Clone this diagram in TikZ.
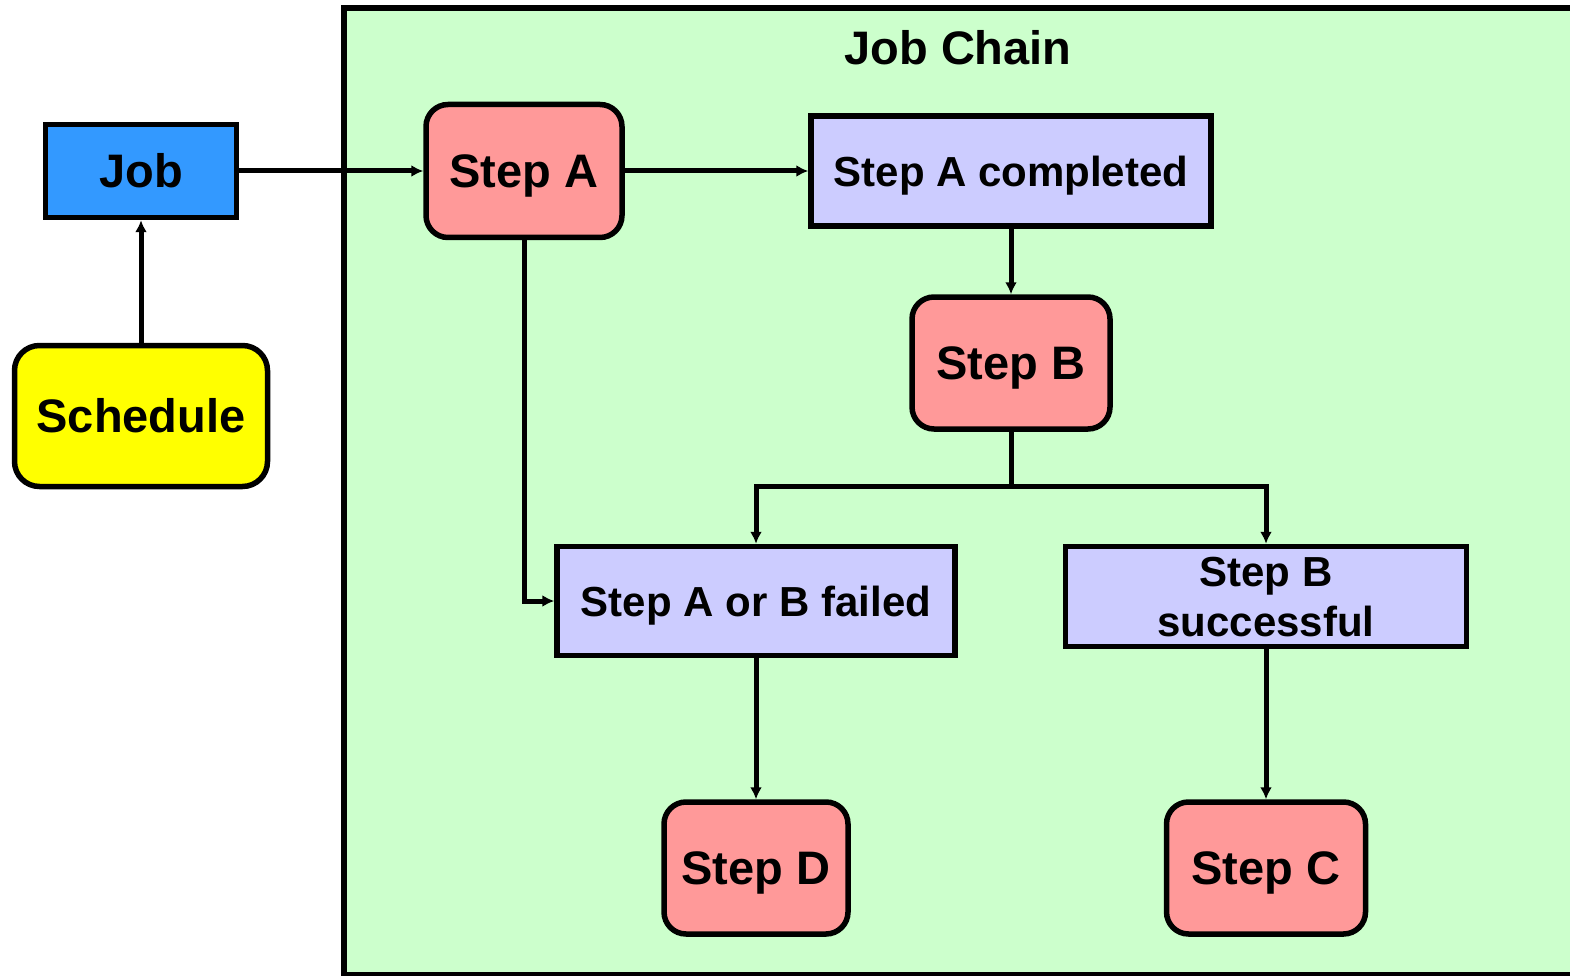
\documentclass[tikz,border=0pt]{standalone}
\usepackage{fontspec}
\setmainfont{Liberation Sans}
\usetikzlibrary{arrows.meta}
\definecolor{chainfill}{HTML}{CCFFCC}
\definecolor{stepfill}{HTML}{FF9999}
\definecolor{eventfill}{HTML}{CCCCFF}
\definecolor{jobfill}{HTML}{3399FF}
\definecolor{schedfill}{HTML}{FFFF00}
\tikzset{
  big/.style={font=\fontsize{47}{52}\selectfont\bfseries, text height=33.7pt, text depth=0pt},
  small/.style={font=\fontsize{42}{50}\selectfont\bfseries, text height=30.1pt, text depth=0pt},
  box/.style={draw=black, line width=5.5pt, inner sep=0pt, align=center},
  stepbox/.style={box, big, fill=stepfill, rounded corners=22pt},
  eventbox/.style={box, small, fill=eventfill},
  link/.style={line width=5pt, -{Latex[length=12pt,width=12pt]}},
  plain/.style={line width=5pt}
}
\begin{document}
\begin{tikzpicture}[x=1pt,y=-1pt]
\useasboundingbox (0,0) rectangle (1570,976);
\clip (0,0) rectangle (1570,976);
% job chain container
\draw[line width=6pt, fill=chainfill] (344,8) rectangle (1600,975);
\node[big, inner sep=0pt] (title) at (958,48) {Job Chain};
% outside the chain
\node[box, big, fill=jobfill, minimum width=191pt, minimum height=93pt] (job) at (141,171) {Job};
\node[box, big, fill=schedfill, rounded corners=25pt, minimum width=253pt, minimum height=141pt] (schedule) at (141,416) {Schedule};
% steps and events
\node[stepbox, minimum width=196pt, minimum height=133pt] (stepA) at (524,171) {Step A};
\node[eventbox, minimum width=400pt, minimum height=110pt] (stepAc) at (1011,171) {Step A completed};
\node[stepbox, minimum width=198pt, minimum height=132pt] (stepB) at (1011,363) {Step B};
\node[eventbox, minimum width=398pt, minimum height=109pt] (failed) at (756,601) {Step A or B failed};
\node[eventbox, text height=80.1pt, text depth=0pt, minimum width=401pt, minimum height=100pt] (succ) at (1266,596.5) {Step B\\successful};
\node[stepbox, minimum width=184pt, minimum height=132pt] (stepD) at (756,868) {Step D};
\node[stepbox, minimum width=199pt, minimum height=132pt] (stepC) at (1266,868) {Step C};
% connectors
\draw[link] (schedule.north) -- (job.south);
\draw[link] (job.east) -- (stepA.west);
\draw[link] (stepA.east) -- (stepAc.west);
\draw[link] (stepAc.south) -- (stepB.north);
\draw[plain] (stepB.south) -- ++(0,55) coordinate (split);
\draw[link] (split) -| (failed.north);
\draw[link] (split) -| (succ.north);
\draw[link] (stepA.south) |- (failed.west);
\draw[link] (failed.south) -- (stepD.north);
\draw[link] (succ.south) -- (stepC.north);
\end{tikzpicture}
\end{document}
